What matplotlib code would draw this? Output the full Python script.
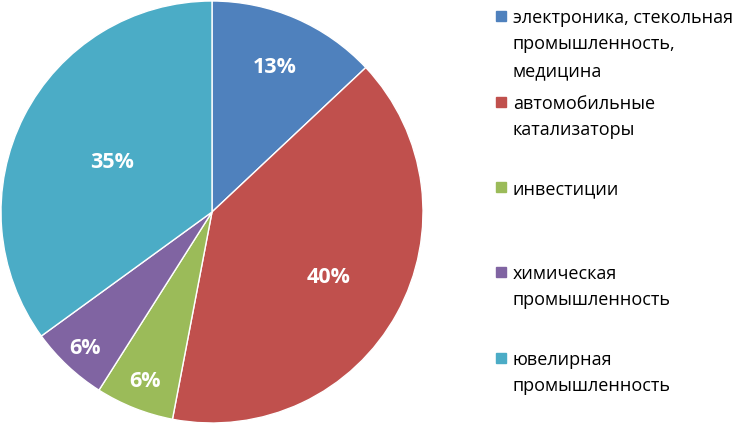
import matplotlib.pyplot as plt
import matplotlib.patches as mpatches
import numpy as np

plt.rcParams['font.family'] = ['Open Sans', 'DejaVu Sans']

# datos
categorias = ['электроника, стекольная\nпромышленность,\nмедицина',
              'автомобильные\nкатализаторы',
              'инвестиции',
              'химическая\nпромышленность',
              'ювелирная\nпромышленность']
valores = [13, 40, 6, 6, 35]
etiquetas = ['13%', '40%', '6%', '6%', '35%']
colores = ['#4F81BD', '#C0504D', '#9BBB59', '#8064A2', '#4BACC6']

W, H = 739, 431
fig = plt.figure(figsize=(W / 100, H / 100), dpi=100)

# tarta
cx, cy, r = 212, 213, 211
ax = fig.add_axes([(cx - r) / W, (H - cy - r) / H, 2 * r / W, 2 * r / H])
wedges, _ = ax.pie(valores, colors=colores, startangle=90, counterclock=False,
                   radius=1, wedgeprops=dict(edgecolor='white', linewidth=1))
ax.set_xlim(-1, 1)
ax.set_ylim(-1, 1)
ax.set_aspect('equal')
ax.axis('off')

# etiquetas dentro de cada sector
distancias = [0.75, 0.63, 0.86, 0.88, 0.53]
for w, txt, d in zip(wedges, etiquetas, distancias):
    ang = np.deg2rad((w.theta1 + w.theta2) / 2)
    ax.text(d * np.cos(ang), d * np.sin(ang), txt, ha='center', va='center',
            color='white', fontsize=15.5, fontweight='bold')

# leyenda manual
ys = [17, 103, 188, 273, 359]
for cat, col, y in zip(categorias, colores, ys):
    fig.patches.append(mpatches.Rectangle((496 / W, (H - y - 5) / H), 10 / W, 10 / H,
                                          transform=fig.transFigure, color=col))
    fig.text(513 / W, (H - y + 8) / H, cat, ha='left', va='top',
             fontsize=13, linespacing=1.6, color='black')

fig.savefig('out.png', dpi=100)
